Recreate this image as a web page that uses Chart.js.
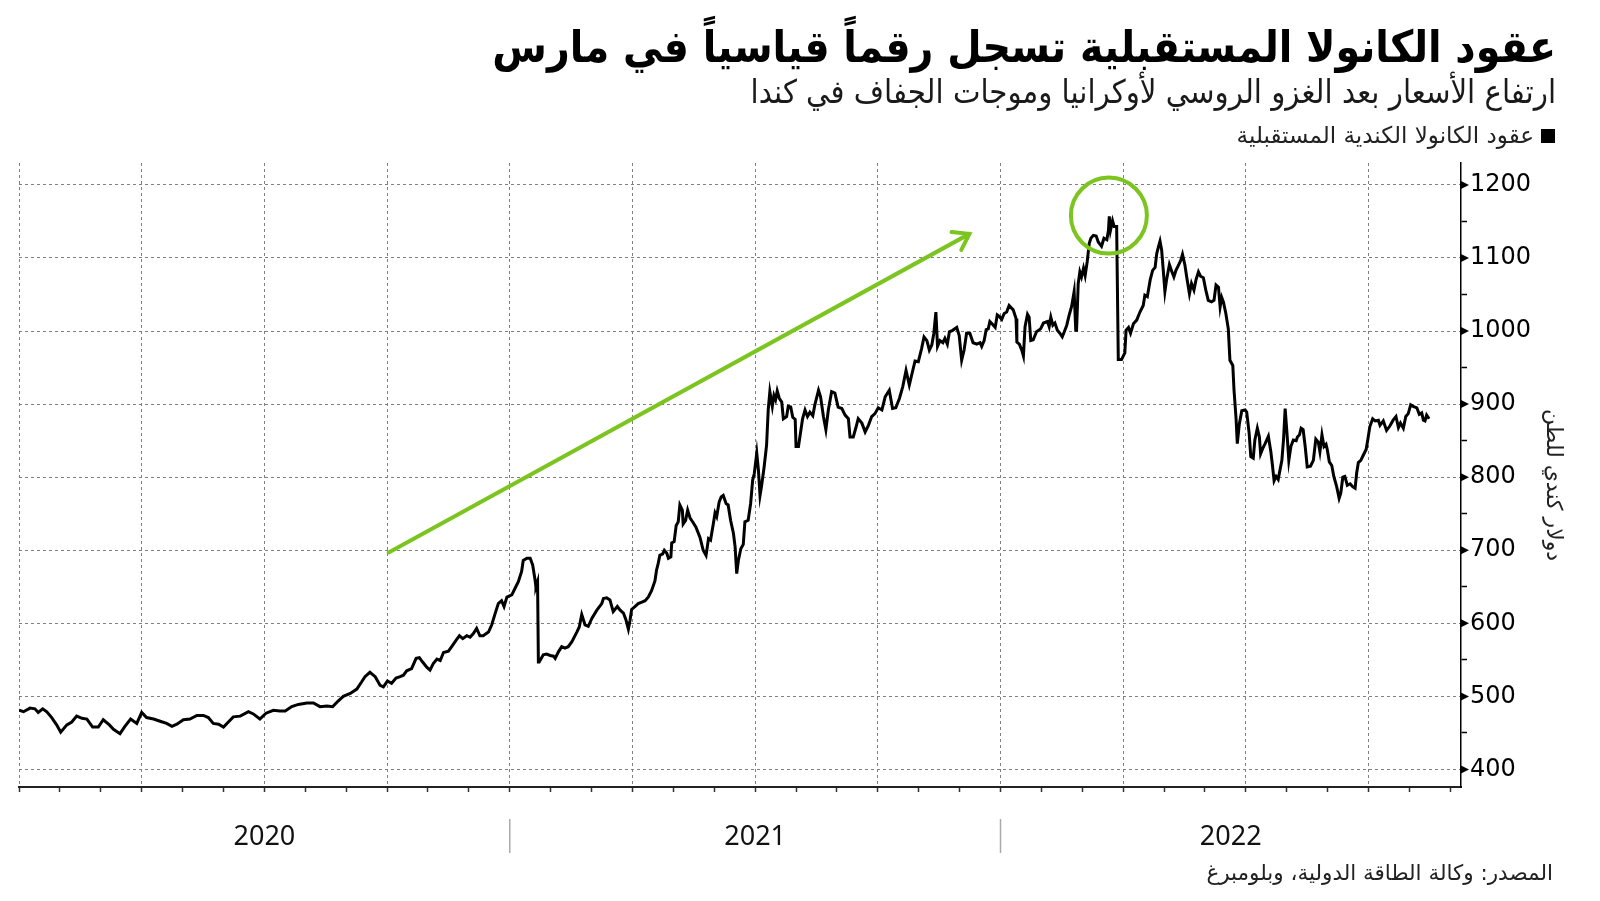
<!DOCTYPE html>
<html lang="ar">
<head>
<meta charset="utf-8">
<title>عقود الكانولا المستقبلية</title>
<script src="https://cdn.jsdelivr.net/npm/chart.js@4.4.1/dist/chart.umd.min.js"></script>
<style>
  html, body { margin: 0; padding: 0; background: #fff; }
  #wrap { position: relative; width: 1600px; height: 901px; overflow: hidden; font-family: "DejaVu Sans", sans-serif; }
  #chart { position: absolute; left: 0; top: 0; }
  .txt { position: absolute; direction: rtl; white-space: nowrap; color: #000; line-height: 1; }
  #title { top: 25px; right: 44px; font-size: 44px; font-weight: bold; font-family: "DejaVu Sans Condensed", "DejaVu Sans", sans-serif; }
  #subtitle { top: 76px; right: 44px; font-size: 32.5px; color: #1a1a1a; font-family: "DejaVu Sans Condensed", "DejaVu Sans", sans-serif; }
  #legend { top: 124px; right: 45px; font-size: 23px; color: #222; display: flex; align-items: center; gap: 7px; }
  #legend .sq { display: inline-block; width: 14px; height: 14px; background: #000; }
  #source { top: 862px; right: 47px; font-size: 21.5px; color: #222; }
</style>
</head>
<body>
<div id="wrap">
  <canvas id="chart" width="1600" height="901"></canvas>
  <div class="txt" id="title">عقود الكانولا المستقبلية تسجل رقماً قياسياً في مارس</div>
  <div class="txt" id="subtitle">ارتفاع الأسعار بعد الغزو الروسي لأوكرانيا وموجات الجفاف في كندا</div>
  <div class="txt" id="legend"><span class="sq"></span><span>عقود الكانولا الكندية المستقبلية</span></div>
  <div class="txt" id="source">المصدر: وكالة الطاقة الدولية، وبلومبرغ</div>
</div>
<script>
// الأشهر منذ بداية يناير 2020 (0 = 1 يناير 2020)
const months = [
  0.00, 0.11, 0.27, 0.39, 0.47, 0.58, 0.68, 0.80, 0.92, 1.02, 1.17, 1.29, 1.41, 1.54, 1.66, 1.80, 1.94,
  2.06, 2.21, 2.31, 2.47, 2.59, 2.73, 2.88, 3.00, 3.12, 3.29, 3.45, 3.61, 3.74, 3.86, 4.02, 4.18, 4.35,
  4.51, 4.63, 4.75, 4.88, 5.00, 5.12, 5.24, 5.41, 5.61, 5.73, 5.89, 6.04, 6.22, 6.38, 6.51, 6.67, 6.83,
  7.04, 7.20, 7.36, 7.53, 7.67, 7.81, 7.93, 8.10, 8.26, 8.38, 8.46, 8.58, 8.71,
  8.83, 8.91, 9.01, 9.11, 9.22, 9.32, 9.40, 9.48, 9.60, 9.71, 9.79, 9.87, 9.97, 10.05, 10.13, 10.22,
  10.30, 10.38, 10.50, 10.58, 10.69, 10.77, 10.85, 10.95, 11.03, 11.11, 11.19, 11.27, 11.35, 11.48,
  11.56, 11.64, 11.72, 11.80, 11.86, 11.93, 12.05, 12.13, 12.21, 12.29, 12.33, 12.42, 12.50, 12.56,
  12.62, 12.64, 12.68, 12.70, 12.72, 12.82, 12.90, 12.99, 13.07, 13.11, 13.19, 13.27, 13.35, 13.43,
  13.52, 13.64, 13.70, 13.76, 13.84, 13.92, 14.01, 14.13, 14.25, 14.29, 14.37, 14.45, 14.53, 14.63,
  14.70, 14.78, 14.84, 14.90, 14.94, 14.98, 15.06, 15.14, 15.23, 15.31, 15.39, 15.47, 15.55, 15.59,
  15.63, 15.67, 15.74, 15.78, 15.84, 15.88, 15.94, 15.96, 16.02, 16.07, 16.12, 16.16, 16.22, 16.24,
  16.30, 16.35, 16.41, 16.47, 16.55, 16.65, 16.73, 16.80, 16.86, 16.91, 16.98, 17.02, 17.06, 17.12,
  17.17, 17.22, 17.29, 17.34, 17.40, 17.47, 17.51, 17.55, 17.59, 17.65, 17.71, 17.75, 17.83, 17.89,
  17.94, 17.98, 18.04, 18.08, 18.12, 18.16, 18.22, 18.28, 18.32, 18.36, 18.42, 18.46, 18.50, 18.54,
  18.59, 18.65, 18.69, 18.77, 18.81, 18.87, 18.92, 18.98, 19.00, 19.06,
  19.16, 19.22, 19.28, 19.34, 19.41, 19.46, 19.55, 19.60, 19.67, 19.73, 19.79, 19.87, 19.95, 20.03,
  20.12, 20.20, 20.28, 20.32, 20.40, 20.47, 20.52, 20.61, 20.69, 20.77, 20.85, 20.93, 21.01, 21.10,
  21.18, 21.28, 21.36, 21.44, 21.53, 21.61, 21.69, 21.77, 21.85, 21.91, 21.99, 22.07, 22.13, 22.20,
  22.26, 22.32, 22.37, 22.42, 22.46, 22.52, 22.59, 22.64, 22.70, 22.75, 22.83, 22.93, 22.99, 23.05,
  23.11, 23.17, 23.25, 23.33, 23.42, 23.50, 23.54, 23.60, 23.65, 23.70, 23.74, 23.81, 23.87, 23.92,
  23.97, 24.03, 24.09, 24.15, 24.21,
  24.31, 24.38, 24.40, 24.46, 24.52, 24.56, 24.60, 24.66, 24.70, 24.74, 24.80, 24.88, 24.98, 25.05,
  25.15, 25.19, 25.23, 25.28, 25.33, 25.39, 25.45, 25.51, 25.56, 25.62, 25.68, 25.74, 25.80, 25.84,
  25.86, 25.90, 25.94, 25.98, 26.03, 26.07, 26.12, 26.17, 26.21, 26.27, 26.34, 26.39, 26.47, 26.53,
  26.60, 26.64, 26.66, 26.69, 26.74, 26.78, 26.84, 26.88, 26.96, 27.04, 27.07, 27.13, 27.18, 27.25,
  27.33, 27.41, 27.49, 27.53, 27.59, 27.66, 27.72, 27.78, 27.82, 27.86, 27.90, 27.94, 27.98, 28.02,
  28.06, 28.13, 28.18, 28.24, 28.29, 28.35, 28.41, 28.45, 28.51, 28.55, 28.62, 28.67, 28.73, 28.78,
  28.84, 28.89, 28.96, 29.02, 29.08, 29.16, 29.22, 29.27, 29.33, 29.37, 29.41, 29.45, 29.51, 29.57,
  29.61, 29.68, 29.71,
  29.76, 29.79, 29.84, 29.90, 29.98, 30.02, 30.08, 30.12, 30.18, 30.22, 30.28, 30.33, 30.36, 30.41,
  30.47, 30.55, 30.61, 30.65, 30.69, 30.74, 30.79, 30.88, 30.92, 30.96, 31.00, 31.05, 31.10, 31.16,
  31.23, 31.26, 31.31, 31.35, 31.40, 31.45, 31.50, 31.58, 31.65, 31.71, 31.77, 31.81, 31.86, 31.91,
  31.96, 31.99, 32.04, 32.10, 32.15, 32.22, 32.28, 32.32, 32.37, 32.42, 32.48, 32.55, 32.61, 32.67,
  32.71, 32.75, 32.81, 32.87, 32.94, 32.98, 33.03, 33.10, 33.16, 33.24, 33.28, 33.36, 33.44, 33.52,
  33.60, 33.67, 33.73, 33.78, 33.85, 33.91, 33.97, 34.03, 34.09, 34.18, 34.24, 34.30, 34.34, 34.38,
  34.42, 34.48
];

// سعر العقد بالدولار الكندي للطن
const prices = [
  481, 479, 484, 483, 478, 483, 479, 471, 461, 451, 461, 465, 473, 470, 469, 458, 458,
  468, 461, 455, 449, 459, 469, 463, 478, 471, 469, 466, 463, 459, 462, 468, 469, 474,
  474, 471, 463, 462, 458, 465, 472, 473, 479, 476, 469, 477, 481, 480, 480, 486, 489,
  491, 491, 486, 487, 486, 494, 500, 504, 510, 520, 527, 533, 527,
  515, 513, 521, 518, 525, 527, 529, 535, 538, 552, 553, 547, 540, 536, 545, 551,
  549, 560, 562, 568, 577, 583, 579, 583, 581, 586, 593, 583, 583, 588,
  598, 613, 627, 631, 623, 636, 639, 648, 657, 671, 686, 689, 689, 680,
  659, 650, 657, 547, 547, 557, 558, 556, 555, 552, 561, 568, 566, 568,
  575, 588, 595, 612, 598, 596, 607, 618, 627, 634, 635, 632, 616, 623,
  618, 614, 605, 592, 604, 619, 623, 627, 629, 631, 636, 645, 658, 673,
  682, 693, 695, 700, 696, 689, 691, 710, 712, 734, 739, 762, 755, 736,
  741, 755, 744, 739, 732, 718, 700, 693, 716, 714, 737, 751, 746, 766,
  773, 775, 764, 762, 741, 723, 705, 668, 686, 702, 708, 739, 741, 764,
  796, 805, 833, 810, 775, 789, 814, 844, 892, 917, 897, 912, 906, 918,
  908, 903, 880, 883, 897, 896, 882, 879, 842, 842,
  880, 892, 883, 889, 884, 899, 919, 910, 883, 865, 892, 917, 915, 896,
  894, 885, 880, 855, 855, 869, 880, 874, 862, 871, 883, 887, 895, 892,
  910, 919, 894, 895, 908, 924, 946, 926, 945, 959, 958, 976, 992, 987,
  974, 981, 997, 1026, 979, 987, 984, 990, 982, 999, 1001, 1005, 994, 960,
  974, 997, 997, 984, 982, 984, 979, 987, 1002, 1003, 1013, 1009, 1005, 1022,
  1020, 1016, 1024, 1026, 1035,
  1029, 1017, 985, 982, 974, 966, 1006, 1023, 1019, 987, 988, 999, 1003, 1011,
  1013, 1006, 1019, 1008, 1011, 1001, 997, 992, 999, 1008, 1022, 1034, 1054, 1001,
  1001, 1065, 1081, 1074, 1086, 1076, 1095, 1120, 1127, 1131, 1130, 1122, 1116, 1127,
  1125, 1138, 1157, 1138, 1151, 1143, 1143, 961, 961, 970, 1001, 1005, 997, 1010,
  1015, 1026, 1035, 1049, 1047, 1070, 1083, 1087, 1106, 1115, 1123, 1111, 1083, 1054,
  1070, 1091, 1083, 1074, 1083, 1090, 1097, 1105, 1090, 1075, 1051, 1065, 1056, 1070,
  1081, 1075, 1073, 1056, 1042, 1040, 1042, 1063, 1060, 1033, 1046, 1040, 1024, 1003,
  960, 953, 919,
  880, 846, 873, 891, 892, 889, 860, 828, 826, 851, 867, 855, 832, 839,
  846, 856, 835, 816, 795, 801, 797, 823, 851, 894, 864, 823, 842, 851,
  850, 855, 858, 867, 865, 842, 814, 815, 823, 852, 848, 835, 858, 842,
  845, 838, 821, 816, 801, 787, 771, 778, 800, 801, 789, 791, 787, 785,
  806, 820, 823, 830, 838, 851, 869, 880, 877, 878, 871, 877, 864, 870,
  878, 883, 868, 874, 867, 883, 887, 899, 897, 895, 886, 888, 878, 877,
  885, 880
];

// تسميات المحاور
const yearLabels = ['2020', '2021', '2022'];
const yTicks = [400, 450, 500, 550, 600, 650, 700, 750, 800, 850, 900, 950, 1000, 1050, 1100, 1150, 1200];
const yTitle = 'دولار كندي للطن';

// السهم الأخضر والدائرة (بإحداثيات البيانات)
const arrowFrom = { x: 9.04, y: 697 };
const arrowTo = { x: 23.24, y: 1133 };
const circleAt = { x: 26.65, y: 1158 };
const green = '#7cc41f';

const ctx = document.getElementById('chart').getContext('2d');

// رسم السهم والدائرة وتسميات السنوات
const extras = {
  id: 'extras',
  afterDatasetsDraw(chart) {
    const { ctx, scales: { x, y } } = chart;
    ctx.save();
    ctx.strokeStyle = green;
    ctx.lineWidth = 4;
    ctx.lineCap = 'round';
    const x1 = x.getPixelForValue(arrowFrom.x), y1 = y.getPixelForValue(arrowFrom.y);
    const x2 = x.getPixelForValue(arrowTo.x), y2 = y.getPixelForValue(arrowTo.y);
    ctx.beginPath();
    ctx.moveTo(x1, y1);
    ctx.lineTo(x2, y2);
    const ang = Math.atan2(y2 - y1, x2 - x1);
    ctx.moveTo(x2 - 18 * Math.cos(ang - 0.6), y2 - 18 * Math.sin(ang - 0.6));
    ctx.lineTo(x2, y2);
    ctx.lineTo(x2 - 18 * Math.cos(ang + 0.6), y2 - 18 * Math.sin(ang + 0.6));
    ctx.stroke();
    ctx.beginPath();
    ctx.arc(x.getPixelForValue(circleAt.x), y.getPixelForValue(circleAt.y), 38, 0, Math.PI * 2);
    ctx.stroke();
    ctx.restore();
  },
  afterDraw(chart) {
    const { ctx, scales: { x, y } } = chart;
    ctx.save();
    // مثلثات التدريج الرئيسية
    ctx.fillStyle = '#000';
    yTicks.filter(v => v % 100 === 0).forEach(v => {
      const py = y.getPixelForValue(v);
      ctx.beginPath();
      ctx.moveTo(y.left, py - 4);
      ctx.lineTo(y.left + 8, py);
      ctx.lineTo(y.left, py + 4);
      ctx.fill();
    });
    // عنوان المحور الرأسي
    ctx.save();
    ctx.translate(1553, 485);
    ctx.rotate(Math.PI / 2);
    ctx.font = '22px "DejaVu Sans", sans-serif';
    ctx.textAlign = 'center';
    ctx.textBaseline = 'middle';
    ctx.fillStyle = '#222';
    ctx.fillText(yTitle, 0, 0);
    ctx.restore();
    // السنوات
    ctx.font = '27px "Noto Sans", sans-serif';
    ctx.textAlign = 'center';
    ctx.textBaseline = 'middle';
    ctx.fillStyle = '#111';
    yearLabels.forEach((label, i) => {
      const start = Math.max(i * 12, x.min);
      const end = Math.min((i + 1) * 12, x.max);
      const cx = (x.getPixelForValue(start) + x.getPixelForValue(end)) / 2;
      ctx.fillText(label, cx, 837);
      if (i > 0) {
        const sx = x.getPixelForValue(i * 12);
        ctx.strokeStyle = '#aaa';
        ctx.lineWidth = 1.5;
        ctx.beginPath();
        ctx.moveTo(sx, 819);
        ctx.lineTo(sx, 853);
        ctx.stroke();
      }
    });
    ctx.restore();
  }
};

const chart = new Chart(ctx, {
  type: 'line',
  data: {
    datasets: [{
      label: 'عقود الكانولا الكندية المستقبلية',
      data: months.map((m, i) => ({ x: m, y: prices[i] })),
      borderColor: '#000',
      borderWidth: 3,
      pointRadius: 0,
      tension: 0
    }]
  },
  options: {
    responsive: false,
    animation: false,
    layout: { padding: { left: 19, top: 163, right: 0, bottom: 0 } },
    plugins: { legend: { display: false }, tooltip: { enabled: false } },
    scales: {
      x: {
        type: 'linear',
        min: 0,
        max: 35.26,
        afterBuildTicks: s => { s.ticks = Array.from({ length: 36 }, (_, i) => ({ value: i })); },
        afterFit: s => { s.height = 114; },
        ticks: { display: false },
        grid: {
          color: c => (c.tick && c.tick.value % 3 === 0) ? '#808080' : 'transparent',
          lineWidth: 1,
          tickLength: 5,
          tickColor: '#333',
          tickWidth: 1.5
        },
        border: { color: '#222', width: 2, dash: [3, 3] }
      },
      y: {
        position: 'right',
        min: 376,
        max: 1230,
        afterBuildTicks: s => { s.ticks = yTicks.map(v => ({ value: v })); },
        afterFit: s => { s.width = 139; },
        ticks: {
          autoSkip: false,
          padding: 3,
          color: '#000',
          font: { family: 'DejaVu Sans', size: 24 },
          callback: v => v % 100 === 0 ? v : ''
        },
        grid: {
          color: c => (c.tick && c.tick.value % 100 === 0) ? '#808080' : 'transparent',
          lineWidth: 1,
          tickLength: 6,
          tickColor: c => (c.tick && c.tick.value % 100 === 0) ? 'transparent' : '#000',
          tickWidth: 1.5
        },
        border: { color: '#000', width: 1.5, dash: [3, 3] }
      }
    }
  },
  plugins: [extras]
});
</script>
</body>
</html>
